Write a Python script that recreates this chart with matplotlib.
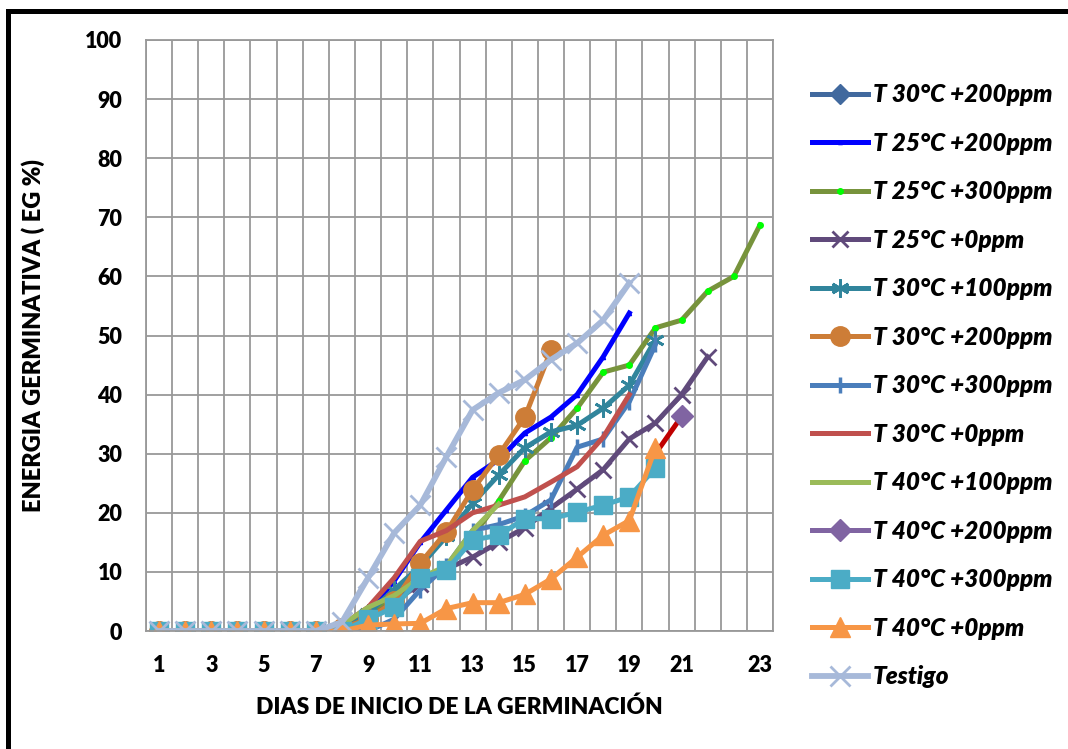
import numpy as np
import matplotlib
matplotlib.use("Agg")
import matplotlib.pyplot as plt
from matplotlib.lines import Line2D
from matplotlib.patches import Rectangle

nan = np.nan
dias = list(range(1, 25))

# valores (EG %)
t30_200a = [0, 0, 0, 0, 0, 0, 0, 0] + [nan] * 16
t25_200 = [0, 0, 0, 0, 0, 0, 0, 0.5, 3, 8.5, 15, 20.5, 26, 29, 33.5, 36.2, 40, 46.4, 53.8] + [nan] * 5
t25_300 = [0, 0, 0, 0, 0, 0, 0, 1, 3, 5.5, 8.5, 11, 16, 22, 28.8, 32.7, 37.7, 43.8, 45, 51.3, 52.6, 57.5, 60, 68.7]
t25_0 = [0, 0, 0, 0, 0, 0, 0, 0, 2, 5, 8, 10.5, 12.5, 15, 17.5, 20.8, 24, 27.3, 32.5, 35.2, 40, 46.4] + [nan] * 2
t30_100 = [0, 0, 0, 0, 0, 0, 0, 0.5, 3, 7, 11, 16, 21.6, 26.4, 31, 33.7, 34.8, 37.7, 41.6, 49.3] + [nan] * 4
t30_200 = [0, 0, 0, 0, 0, 0, 0, 0.5, 2, 5, 11.5, 16.8, 23.9, 29.8, 36.2, 47.5] + [nan] * 8
t30_300 = [0, 0, 0, 0, 0, 0, 0, 0, 0, 2, 7, 11, 17, 18, 19.5, 22.2, 31.1, 32.5, 38.8, 48.5] + [nan] * 4
t30_0 = [0, 0, 0, 0, 0, 0, 0, 1, 4, 9, 15.2, 17, 20, 21.3, 22.7, 25.2, 27.8, 32.8, 40] + [nan] * 5
t40_100 = [0, 0, 0, 0, 0, 0, 0, 1, 4, 6, 9, 11, 17, 21.5] + [nan] * 10
t40_200 = [nan] * 19 + [30, 36.3] + [nan] * 3
t40_300 = [0, 0, 0, 0, 0, 0, 0, 0, 2, 4, 9, 10.3, 15.4, 16.2, 19, 19, 20.1, 21.3, 22.7, 27.6] + [nan] * 4
t40_0 = [0, 0, 0, 0, 0, 0, 0, 0, 1, 1.2, 1.3, 3.8, 4.8, 4.8, 6.2, 8.8, 12.5, 16.2, 18.7, 31] + [nan] * 4
testigo = [0, 0, 0, 0, 0, 0, 0, 1.5, 9, 16.6, 21.3, 29.5, 37.4, 40.3, 42.5, 45.9, 48.7, 52.6, 58.9] + [nan] * 5

xtick_pos = [1, 3, 5, 7, 9, 11, 13, 15, 17, 19, 21, 24]
xtick_lab = ['1', '3', '5', '7', '9', '11', '13', '15', '17', '19', '21', '23']

plt.rcParams['font.family'] = ['Lato', 'DejaVu Sans']
W = 'heavy'

fig = plt.figure(figsize=(10.68, 7.49), dpi=100)
ax = fig.add_axes([0.1367, 0.1575, 0.5871, 0.7891])

lw = 3.6
ax.plot(dias, t30_200a, color='#41699E', lw=lw, marker='D', ms=10, label='T 30°C +200ppm')
ax.plot(dias, t25_200, color='#0000FF', lw=lw, marker='^', ms=3, label='T 25°C +200ppm')
ax.plot(dias, t25_300, color='#77933C', lw=lw, marker='o', ms=4, mfc='#00FF00', mec='#00FF00',
        label='T 25°C +300ppm')
ax.plot(dias, t25_0, color='#604A7B', lw=lw, marker='x', ms=12, mew=2, label='T 25°C +0ppm')
ax.plot(dias, t30_100, color='#31859C', lw=lw, marker=(6, 2, 0), ms=13, mew=2, label='T 30°C +100ppm')
ax.plot(dias, t30_200, color='#CD7D37', lw=lw, marker='o', ms=14, label='T 30°C +200ppm')
ax.plot(dias, t30_300, color='#4A7EBB', lw=lw, marker='|', ms=12, mew=2.5, label='T 30°C +300ppm')
ax.plot(dias, t30_0, color='#C0504D', lw=lw, label='T 30°C +0ppm')
ax.plot(dias, t40_100, color='#9BBB59', lw=lw, label='T 40°C +100ppm')
# segmento final en rojo oscuro con rombo morado
ax.plot(dias, t40_200, color='#C00000', lw=lw, marker='D', ms=11, mfc='#8064A2', mec='#8064A2',
        markevery=[20])
ax.plot(dias, t40_300, color='#4BACC6', lw=lw, marker='s', ms=13, label='T 40°C +300ppm')
ax.plot(dias, t40_0, color='#F79646', lw=lw, marker='^', ms=14, label='T 40°C +0ppm')
ax.plot(dias, testigo, color='#A7B9D9', lw=4.2, marker='x', ms=14, mew=2, label='Testigo')

ax.set_xlim(0.5, 24.5)
ax.set_ylim(0, 100)
ax.set_yticks(np.arange(0, 101, 10))
ax.set_xticks(xtick_pos)
ax.set_xticklabels(xtick_lab)
ax.set_xticks(np.arange(0.5, 25, 1), minor=True)
ax.grid(False)
ax.grid(True, which='minor', axis='x', color='#999999', lw=1.3)
ax.grid(True, which='major', axis='y', color='#999999', lw=1.3)
ax.set_axisbelow(True)
ax.tick_params(which='both', length=0, labelsize=15.5)
ax.tick_params(axis='y', pad=17)
ax.tick_params(axis='x', pad=17)
for lab in ax.get_xticklabels() + ax.get_yticklabels():
    lab.set_fontweight(W)
for s in ax.spines.values():
    s.set_color('#999999')
    s.set_linewidth(1.3)

ax.set_xlabel('DIAS DE INICIO DE LA GERMINACIÓN', fontsize=16.4, fontweight=W, labelpad=15)
ax.set_ylabel('ENERGIA GERMINATIVA ( EG %)', fontsize=17, fontweight=W, labelpad=29)

# leyenda en el orden original
handles, labels = ax.get_legend_handles_labels()
h40_200 = Line2D([], [], color='#8064A2', lw=lw, marker='D', ms=11)
handles.insert(9, h40_200)
labels.insert(9, 'T 40°C +200ppm')
fig.legend(handles, labels, loc='upper left', bbox_to_anchor=(0.760, 0.889), frameon=False,
           prop={'size': 17.5, 'weight': W, 'style': 'italic'}, borderpad=0,
           labelspacing=1.05, handlelength=2.3, handletextpad=0.22, borderaxespad=0)

fig.patches.append(Rectangle((0.0075, -0.1), 1.2, 1.0853, transform=fig.transFigure,
                             fill=False, ec='black', lw=3.6))

fig.savefig('out.png', dpi=100)
